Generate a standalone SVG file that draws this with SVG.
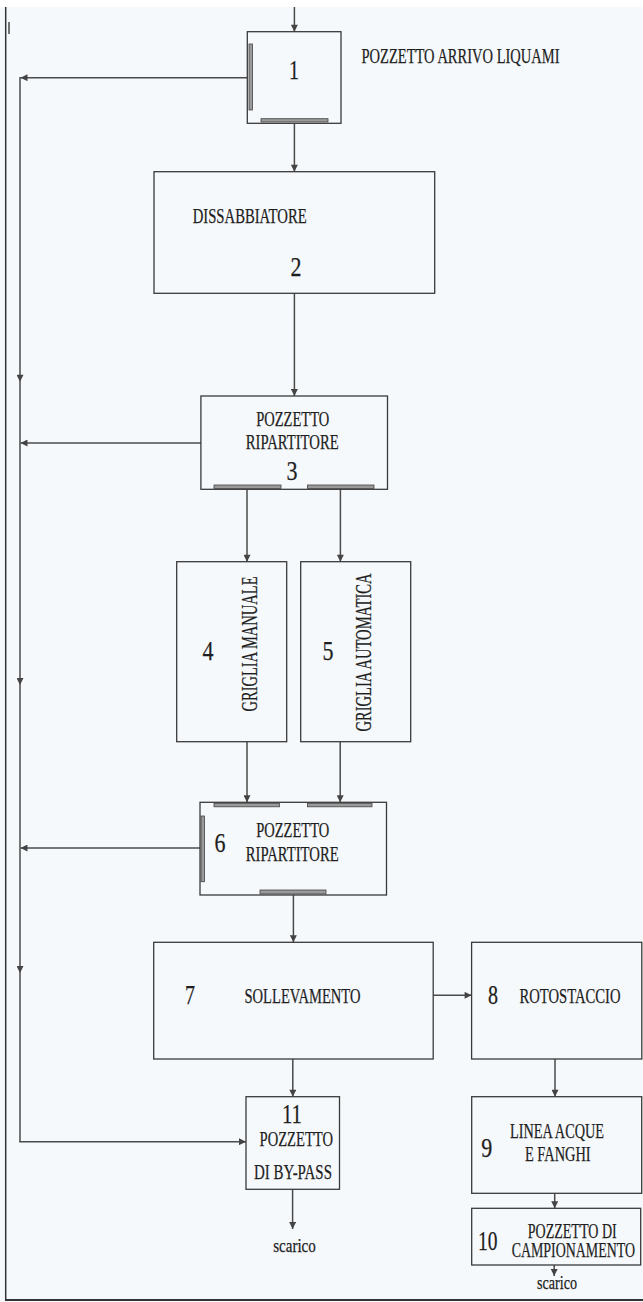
<svg xmlns="http://www.w3.org/2000/svg" width="643" height="1302" viewBox="0 0 643 1302">
<style>
.box{fill:none;stroke:#3a3a3a;stroke-width:1.3}
.bar{fill:#9a9a9a;stroke:#444;stroke-width:0.8}
.c{fill:none;stroke:#4a4a4a;stroke-width:1.5}
text{font-family:"Liberation Serif","Times New Roman",serif;fill:#1e1e1e;stroke:#1e1e1e;stroke-width:0.25}
.lb{font-size:21px}
.num{font-size:28px;text-anchor:middle}
.mid{text-anchor:middle}
.sc{font-size:18px;text-anchor:middle}
</style>
<defs>
<marker id="ah" viewBox="0 0 8 8" refX="8" refY="4" markerWidth="8" markerHeight="7" markerUnits="userSpaceOnUse" orient="auto">
<path d="M0,0 L8,4 L0,8 z" fill="#444"/>
</marker>
</defs>
<rect x="0" y="0" width="643" height="1302" fill="#ffffff"/>
<rect x="0" y="7" width="643" height="1295" fill="#f6f9fb"/>
<g id="frame">
<line x1="5.7" y1="7" x2="5.7" y2="1300" stroke="#333" stroke-width="1.5"/>
<line x1="5" y1="1300" x2="643" y2="1300" stroke="#333" stroke-width="2"/>
<line x1="9" y1="22" x2="9" y2="34" stroke="#444" stroke-width="1.5"/>
</g>
<g id="connectors">
<path class="c" d="M294.4,7 L294.4,31.7" marker-end="url(#ah)"/>
<path class="c" d="M294.4,123.3 L294.4,171.7" marker-end="url(#ah)"/>
<path class="c" d="M294.4,293.3 L294.4,396" marker-end="url(#ah)"/>
<path class="c" d="M247,489 L247,561.7" marker-end="url(#ah)"/>
<path class="c" d="M340.4,489 L340.4,561.7" marker-end="url(#ah)"/>
<path class="c" d="M247,741.7 L247,802.3" marker-end="url(#ah)"/>
<path class="c" d="M340.2,741.7 L340.2,802.3" marker-end="url(#ah)"/>
<path class="c" d="M293.4,895 L293.4,942.3" marker-end="url(#ah)"/>
<path class="c" d="M433.2,995.3 L471.6,995.3" marker-end="url(#ah)"/>
<path class="c" d="M292.8,1059 L292.8,1096.7" marker-end="url(#ah)"/>
<path class="c" d="M292.6,1189.3 L292.6,1229" marker-end="url(#ah)"/>
<path class="c" d="M555,1059 L555,1096.7" marker-end="url(#ah)"/>
<path class="c" d="M554.7,1193.3 L554.7,1208.3" marker-end="url(#ah)"/>
<path class="c" d="M554.2,1265 L554.2,1276" marker-end="url(#ah)"/>
<path class="c" d="M247.3,77.7 L20.5,77.7" marker-end="url(#ah)"/>
<path class="c" d="M201,443 L20.5,443" marker-end="url(#ah)"/>
<path class="c" d="M200,848 L20.5,848" marker-end="url(#ah)"/>
<path class="c" d="M20,77 L20,381.7 L20,685 L20,973 L20,1142" marker-mid="url(#ah)"/>
<path class="c" d="M19.3,1141.7 L246,1141.7" marker-end="url(#ah)"/>
</g>
<g id="node1">
<rect class="box" x="247.3" y="31.7" width="93.7" height="91.6"/>
<rect class="bar" x="249" y="44" width="3.5" height="66"/>
<rect class="bar" x="261" y="118.7" width="67" height="3.3"/>
<text class="num" x="294" y="78.5" textLength="10" lengthAdjust="spacingAndGlyphs">1</text>
<text class="lb" x="361.5" y="63" textLength="198" lengthAdjust="spacingAndGlyphs">POZZETTO ARRIVO LIQUAMI</text>
</g>
<g id="node2">
<rect class="box" x="154" y="171.7" width="280.7" height="121.6"/>
<text x="192.7" y="222.7" font-size="20" textLength="114" lengthAdjust="spacingAndGlyphs">DISSABBIATORE</text>
<text class="num" x="296" y="275.5" textLength="11" lengthAdjust="spacingAndGlyphs">2</text>
</g>
<g id="node3">
<rect class="box" x="200.9" y="396" width="186.6" height="93.3"/>
<rect class="bar" x="214" y="485" width="67" height="3.5"/>
<rect class="bar" x="307.5" y="485" width="66.5" height="3.5"/>
<text class="lb mid" x="292.7" y="426" textLength="73" lengthAdjust="spacingAndGlyphs">POZZETTO</text>
<text class="lb mid" x="292.2" y="449.3" textLength="93" lengthAdjust="spacingAndGlyphs">RIPARTITORE</text>
<text class="num" x="292" y="480" textLength="11" lengthAdjust="spacingAndGlyphs">3</text>
</g>
<g id="node4">
<rect class="box" x="176.7" y="561.7" width="110" height="180"/>
<text class="num" x="208" y="660" textLength="11" lengthAdjust="spacingAndGlyphs">4</text>
<text class="mid" font-size="24" x="257" y="644" transform="rotate(-90 257 644)" textLength="135" lengthAdjust="spacingAndGlyphs">GRIGLIA MANUALE</text>
</g>
<g id="node5">
<rect class="box" x="300.7" y="561.7" width="110" height="180"/>
<text class="num" x="328" y="660" textLength="11" lengthAdjust="spacingAndGlyphs">5</text>
<text class="mid" font-size="24" x="371" y="652.5" transform="rotate(-90 371 652.5)" textLength="158" lengthAdjust="spacingAndGlyphs">GRIGLIA AUTOMATICA</text>
</g>
<g id="node6">
<rect class="box" x="200" y="802.3" width="186.5" height="92.7"/>
<rect class="bar" x="214" y="803.3" width="65.5" height="3.5"/>
<rect class="bar" x="307.5" y="803.3" width="64.5" height="3.5"/>
<rect class="bar" x="201" y="816" width="3.5" height="65.7"/>
<rect class="bar" x="260" y="890" width="66" height="4"/>
<text class="num" x="220" y="851.5" textLength="11" lengthAdjust="spacingAndGlyphs">6</text>
<text class="lb mid" x="292.7" y="836.7" textLength="73" lengthAdjust="spacingAndGlyphs">POZZETTO</text>
<text class="lb mid" x="292.2" y="860.7" textLength="93" lengthAdjust="spacingAndGlyphs">RIPARTITORE</text>
</g>
<g id="node7">
<rect class="box" x="153.7" y="942.3" width="279.5" height="116.7"/>
<text class="num" x="190" y="1004" textLength="10" lengthAdjust="spacingAndGlyphs">7</text>
<text class="lb" x="244.5" y="1003" textLength="116" lengthAdjust="spacingAndGlyphs">SOLLEVAMENTO</text>
</g>
<g id="node8">
<rect class="box" x="471.6" y="942.3" width="170.2" height="116.7"/>
<text class="num" x="493" y="1004" textLength="10" lengthAdjust="spacingAndGlyphs">8</text>
<text class="lb" x="519.5" y="1003" textLength="101" lengthAdjust="spacingAndGlyphs">ROTOSTACCIO</text>
</g>
<g id="node9">
<rect class="box" x="471.7" y="1096.7" width="170" height="96.6"/>
<text class="num" x="486.7" y="1157.3" textLength="11" lengthAdjust="spacingAndGlyphs">9</text>
<text class="lb mid" x="557" y="1138.3" textLength="94" lengthAdjust="spacingAndGlyphs">LINEA ACQUE</text>
<text class="lb mid" x="557.8" y="1160.7" textLength="65.7" lengthAdjust="spacingAndGlyphs">E FANGHI</text>
</g>
<g id="node10">
<rect class="box" x="471.7" y="1208.3" width="169" height="56.7"/>
<text class="num" x="487.7" y="1250" textLength="19.5" lengthAdjust="spacingAndGlyphs">10</text>
<text class="lb mid" x="572.2" y="1238" textLength="89" lengthAdjust="spacingAndGlyphs">POZZETTO DI</text>
<text class="lb mid" x="573.3" y="1256.7" textLength="123.3" lengthAdjust="spacingAndGlyphs">CAMPIONAMENTO</text>
<text class="sc" x="557" y="1289" textLength="40" lengthAdjust="spacingAndGlyphs">scarico</text>
</g>
<g id="node11">
<rect class="box" x="246" y="1096.7" width="93.5" height="92.6"/>
<text class="num" x="292" y="1123.3" textLength="20" lengthAdjust="spacingAndGlyphs">11</text>
<text class="lb mid" x="296.3" y="1145.7" textLength="73.4" lengthAdjust="spacingAndGlyphs">POZZETTO</text>
<text class="lb mid" x="293" y="1179" textLength="78" lengthAdjust="spacingAndGlyphs">DI BY-PASS</text>
<text class="sc" x="294.5" y="1252" textLength="42.6" lengthAdjust="spacingAndGlyphs">scarico</text>
</g>
</svg>
